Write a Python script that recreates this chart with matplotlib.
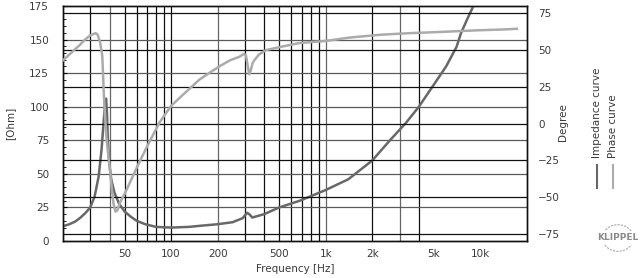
import matplotlib
matplotlib.use("Agg")
import matplotlib.pyplot as plt
from matplotlib.lines import Line2D
from matplotlib.patches import Arc
from matplotlib.ticker import FixedLocator, MultipleLocator

plt.rcParams['font.family'] = ['DejaVu Sans']

# ---- data ----
imp_freq = [20, 22, 24, 26, 28, 30, 32, 34, 35.5, 36.8, 37.5, 38, 38.5, 39, 39.8, 41, 43, 46, 50,
            55, 60, 68, 80, 100, 130, 160, 200, 250, 290, 310, 320, 335, 400, 500, 680, 1000,
            1400, 2000, 2600, 3300, 4000, 4900, 6000, 7000, 7500, 8200, 9000, 9500]
imp_ohm = [11, 12.5, 14.5, 17.5, 21, 25, 33, 48, 68, 92, 104, 106, 95, 75, 58, 46, 36, 28, 22,
           18, 15, 12.5, 10.5, 10, 10.5, 11.5, 12.5, 14, 17, 21, 20, 17.5, 20, 25, 30, 38,
           46, 60, 75, 88, 100, 115, 130, 144.5, 155, 165, 175, 182]

ph_freq = [20, 22, 25.7, 28, 30, 32.5, 33.5, 34.7, 35.9, 36.8, 37.5, 38.3, 39.3, 40.4, 41.4, 42.5,
           43.7, 45, 46.6, 50, 54, 60, 66, 72.8, 84.5, 100, 115, 132.6, 153, 180, 206, 240, 277,
           297, 305, 312, 320, 327, 336, 345, 370, 411, 502, 676, 1000, 1422, 2300, 3500, 5400,
           9800, 14000, 17200]
ph_deg = [43, 47, 53.5, 57.5, 60, 61.5, 60.5, 55.5, 46, 18, 3, -11, -22, -33, -45, -55,
          -60, -59, -54, -48, -40.5, -30, -21, -12, 1, 12, 18, 24, 30, 35, 39, 43, 45.5,
          47.5, 46, 40, 33.5, 36, 41, 43, 47, 50, 52, 54.8, 56.2, 58.5, 60.5, 61.5, 62.3,
          63.5, 64, 64.5]

x_ticks = [50, 100, 200, 500, 1000, 2000, 5000, 10000]
x_labels = ['50', '100', '200', '500', '1k', '2k', '5k', '10k']
left_ticks = [0, 25, 50, 75, 100, 125, 150, 175]
right_ticks = [-75, -50, -25, 0, 25, 50, 75]

vgrid_black = [30, 50, 60, 70, 80, 90, 100, 300, 400, 500, 600, 700, 800, 900, 2000, 4000]
vgrid_gray = [40, 200, 1000, 3000]

# ---- figure ----
W, H = 643, 278
fig = plt.figure(figsize=(W / 100, H / 100), dpi=100)
ax = fig.add_axes([63 / W, 1 - 241 / H, (527 - 63) / W, (241 - 6) / H])
ax2 = ax.twinx()

ax.set_xscale('log')
ax.set_xlim(20, 20000)
ax.set_ylim(0, 175)
ax2.set_ylim(-80, 80)

txt_col = '#3a3a3a'
fs = 7.5

for f in vgrid_black:
    ax.axvline(f, color='#111111', lw=0.9, zorder=1)
for f in vgrid_gray:
    ax.axvline(f, color='#666666', lw=0.9, zorder=1)
for v in left_ticks[1:-1]:
    ax.axhline(v, color='#5a5a5a', lw=0.9, zorder=1)
for v in right_ticks:
    ax2.axhline(v, color='#111111', lw=0.9, zorder=1)

ax.plot(imp_freq, imp_ohm, color='#686868', lw=1.8, zorder=4, clip_on=True)
ax2.plot(ph_freq, ph_deg, color='#ababab', lw=1.8, zorder=3)

ax.set_xticks(x_ticks)
ax.set_xticklabels(x_labels)
ax.xaxis.set_minor_locator(FixedLocator([]))
ax.tick_params(axis='x', length=0, pad=6, labelsize=fs, labelcolor=txt_col)
ax.set_yticks(left_ticks)
ax.yaxis.set_minor_locator(MultipleLocator(5))
ax.tick_params(axis='y', which='major', direction='in', length=3, pad=10, labelsize=fs,
               labelcolor=txt_col, width=0.8)
ax.tick_params(axis='y', which='minor', direction='in', length=2, width=0.6)
ax.tick_params(axis='y', right=False, which='both')

ax2.set_yticks(right_ticks)
ax2.tick_params(axis='y', length=0, pad=8, labelsize=fs, labelcolor=txt_col)
for lab in ax2.get_yticklabels():
    lab.set_horizontalalignment('left')

for a in (ax, ax2):
    for s in a.spines.values():
        s.set_color('#111111')
        s.set_linewidth(1.0)

ax.set_xlabel('Frequency [Hz]', fontsize=fs, color=txt_col, labelpad=3)
fig.text(10 / W, 1 - 123 / H, '[Ohm]', rotation=90, ha='center', va='center',
         fontsize=fs, color=txt_col)
fig.text(563 / W, 1 - 122 / H, 'Degree', rotation=90, ha='center', va='center',
         fontsize=fs, color=txt_col)

# legend
fig.text(597 / W, 1 - 158 / H, 'Impedance curve', rotation=90, ha='center', va='bottom',
         fontsize=fs, color=txt_col)
fig.text(613 / W, 1 - 158 / H, 'Phase curve', rotation=90, ha='center', va='bottom',
         fontsize=fs, color=txt_col)
fig.add_artist(Line2D([597 / W, 597 / W], [1 - 165 / H, 1 - 188 / H], color='#686868', lw=1.5))
fig.add_artist(Line2D([613 / W, 613 / W], [1 - 165 / H, 1 - 188 / H], color='#ababab', lw=1.5))

# logo
fig.text(618 / W, 1 - 238 / H, 'KLIPPEL', ha='center', va='center', fontsize=6.5,
         color='#8a8a8a', fontweight='bold')
lax = fig.add_axes([596 / W, 1 - 252 / H, 44 / W, 28 / H])
lax.set_axis_off()
lax.set_xlim(0, 1)
lax.set_ylim(0, 1)
lax.add_patch(Arc((0.5, 0.5), 0.7, 0.95, theta1=40, theta2=140, color='#aaaaaa', lw=0.8, ls=(0, (2, 1))))
lax.add_patch(Arc((0.5, 0.5), 0.7, 0.95, theta1=220, theta2=320, color='#aaaaaa', lw=0.8, ls=(0, (2, 1))))

fig.savefig('out.png', dpi=100)
